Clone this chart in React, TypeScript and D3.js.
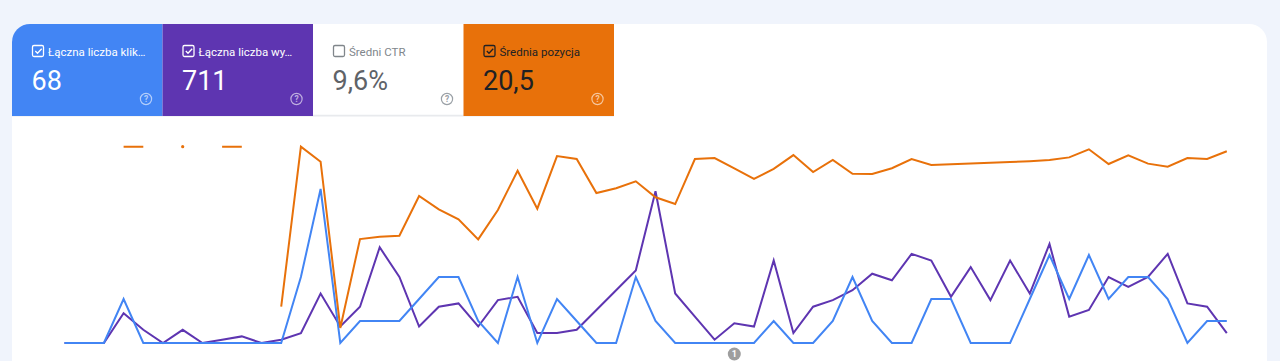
import React from "react";
import * as d3 from "d3";

// ---- data ----
const days: number[] = d3.range(60);
const clicks: number[] = [0,0,0,2,0,0,0,0,0,0, 0,0,3,7,0,1,1,1,2,3, 3,1,0,3,0,2,1,0,0,3, 1,0,0,0,0,0,1,0,0,1, 3,1,0,0,2,2,0,0,0,2, 4,2,4,2,3,3,2,0,1,1];
const impressions: number[] = [0,0,0,9,4,0,4,0,1,2, 0,1,3,15,5,11,29,20,5,11, 12,5,13,14,3,3,4,10,16,22, 46,15,8,1,6,5,25,3,11,13, 16,21,19,27,25,14,23,13,25,15, 30,8,10,20,17,20,27,12,11,3];
const positions: (number | null)[] = [null,null,null,1,1,null,1,null,1,1, null,98,1,10.1,110.9,57,55.6,55,30.9,39, 45,57.2,39.4,15.6,38.6,6.7,8.5,29.1,26.2,22, 31.7,35.8,8.5,7.9,14.1,20.6,14.5,6.1,16.4,9.1, 17.4,17.6,14.1,8.5,12.1,11.7,11.2,10.8,10.3,9.8, 9.1,7.5,2.6,11.5,6.2,11.3,13.2,7.9,8.5,3.8];
const clicksDomain = [0, 9];
const impressionsDomain = [0, 60];
const positionDomain = [0, 120];

const metricLabels = ["Łączna liczba klik…", "Łączna liczba wy…", "Średni CTR", "Średnia pozycja"];
const metricValues = ["68", "711", "9,6%", "20,5"];
const metricChecked = [true, true, false, true];
const annotations = [{ day: 34, label: "1" }];

// ---- styles ----
const W = 1280, H = 361;
const BG = "#f0f4fc";
const BLUE = "#4285f4", PURPLE = "#5e35b1", ORANGE = "#e8710a";
const tileStyles = [
  { bg: BLUE, text: "#ffffff", label: "#ffffff", box: "#ffffff", help: "rgba(255,255,255,0.6)" },
  { bg: PURPLE, text: "#ffffff", label: "#ffffff", box: "#ffffff", help: "rgba(255,255,255,0.6)" },
  { bg: "#ffffff", text: "#5f6368", label: "#80868b", box: "#80868b", help: "#9aa0a6" },
  { bg: ORANGE, text: "#202124", label: "#202124", box: "#202124", help: "rgba(255,255,255,0.6)" },
];

export default function App() {
  const cardX = 12, cardY = 24, cardR = 18, cardRight = 1267;
  const tileW = 150.5, tileH = 92;
  const x = d3.scalePoint<number>().domain(days).range([64.5, 1226.8]);
  const yClicks = d3.scaleLinear().domain(clicksDomain).range([343, 145]);
  const yImp = d3.scaleLinear().domain(impressionsDomain).range([343, 145]);
  const yPos = d3.scaleLinear().domain(positionDomain).range([145, 343]);

  const clickLine = d3.line<number>().x((_, i) => x(i)!).y((d) => yClicks(d));
  const impLine = d3.line<number>().x((_, i) => x(i)!).y((d) => yImp(d));
  const posLine = d3
    .line<number | null>()
    .defined((d) => d !== null)
    .x((_, i) => x(i)!)
    .y((d) => yPos(d as number));
  const isolated = positions
    .map((d, i) => ({ d, i }))
    .filter(({ d, i }) => d !== null && (i === 0 || positions[i - 1] === null) && (i === positions.length - 1 || positions[i + 1] === null));

  const cardPath = `M${cardX},${H + 10} V${cardY + cardR} A${cardR},${cardR} 0 0 1 ${cardX + cardR},${cardY} H${cardRight - cardR} A${cardR},${cardR} 0 0 1 ${cardRight},${cardY + cardR} V${H + 10} Z`;

  return (
    <div style={{ position: "absolute", left: 0, top: 0, width: W, height: H, overflow: "hidden" }}>
      <svg width={W} height={H} style={{ display: "block", fontFamily: "Roboto, 'Noto Sans', sans-serif" }}>
        <defs>
          <clipPath id="cardClip">
            <path d={cardPath} />
          </clipPath>
        </defs>
        <rect x={0} y={0} width={W} height={H} fill={BG} />
        <path d={cardPath} fill="#ffffff" />
        <g clipPath="url(#cardClip)">
          <rect x={cardX} y={114.5} width={tileW * 4} height={2} fill="#e8eaed" />
          {metricLabels.map((lab, i) => {
            const tx = cardX + i * tileW;
            const s = tileStyles[i];
            return (
              <g key={i}>
                <rect x={tx} y={cardY} width={tileW} height={tileH + (s.bg === "#ffffff" ? -1.5 : 0)} fill={s.bg} />
                <rect x={tx + 20.5} y={45.5} width={11} height={11} rx={1.5} fill="none" stroke={s.box} strokeWidth={1.3} />
                {metricChecked[i] && (
                  <path d={`M${tx + 23.3},${51} l2.2,2.3 l4.2,-4.6`} fill="none" stroke={s.box} strokeWidth={1.3} />
                )}
                <text x={tx + 36} y={55.5} fontSize={11.5} fontWeight={400} fill={s.label}>{lab}</text>
                <text x={tx + 19.5} y={89.5} fontSize={27} fill={s.text}>{metricValues[i]}</text>
                <circle cx={tx + 134} cy={99} r={5.6} fill="none" stroke={s.help} strokeWidth={1.2} />
                <text x={tx + 134} y={102.2} fontSize={8.5} fontWeight={700} textAnchor="middle" fill={s.help}>?</text>
              </g>
            );
          })}
        </g>

        <path d={impLine(impressions)!} fill="none" stroke={PURPLE} strokeWidth={2} />
        <path d={clickLine(clicks)!} fill="none" stroke={BLUE} strokeWidth={2} />
        <path d={posLine(positions)!} fill="none" stroke={ORANGE} strokeWidth={2} />
        {isolated.map(({ d, i }) => (
          <circle key={i} cx={x(i)} cy={yPos(d as number)} r={1.6} fill={ORANGE} />
        ))}

        {annotations.map((a) => (
          <g key={a.day}>
            <circle cx={x(a.day)} cy={354} r={6.5} fill="#9e9e9e" />
            <text x={x(a.day)} y={357.3} fontSize={9} fontWeight={700} textAnchor="middle" fill="#ffffff">{a.label}</text>
          </g>
        ))}
      </svg>
    </div>
  );
}
